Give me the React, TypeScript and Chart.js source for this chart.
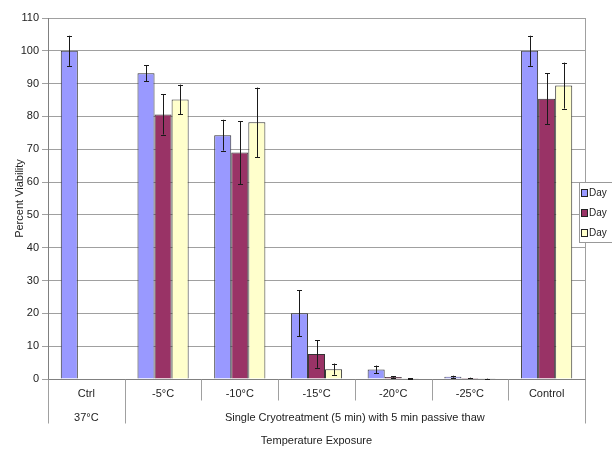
import React, { useEffect, useRef } from "react";
import { Chart, registerables } from "chart.js";

Chart.register(...registerables);

const categories = ["Ctrl", "-5°C", "-10°C", "-15°C", "-20°C", "-25°C", "Control"];
const groupLabels = ["37°C", "Single Cryotreatment (5 min) with 5 min passive thaw"];
const groupStarts = [0, 1];
const groupEnds = [0, 6];
const seriesLabels = ["Day", "Day", "Day"];
const seriesColors = ["#9999FF", "#993366", "#FFFFCC"];

const day1 = [100, 93.2, 74.3, 20.0, 2.9, 0.7, 100];
const day1Err = [4.6, 2.4, 4.7, 7.0, 1.2, 0.3, 4.6];
const day2 = [null, 80.6, 69.0, 7.6, 0.6, 0.3, 85.4];
const day2Err = [null, 6.1, 9.6, 4.2, 0.2, 0.1, 7.8];
const day3 = [null, 85.2, 78.2, 3.0, 0.2, 0.1, 89.4];
const day3Err = [null, 4.5, 10.6, 1.7, 0.1, 0.05, 7.0];

const yMin = 0;
const yMax = 110;
const yStep = 10;
const xTitle = "Temperature Exposure";
const yTitle = "Percent Viability";

const FONT = "'Liberation Sans', Arial, sans-serif";
const TEXT = "#222222";
const GRID = "#a0a0a0";

export default function App() {
  const ref = useRef<HTMLCanvasElement | null>(null);

  useEffect(() => {
    document.body.style.margin = "0";
    const canvas = ref.current;
    if (!canvas) return;
    const values = [day1, day2, day3];
    const errs = [day1Err, day2Err, day3Err];

    const extras = {
      id: "extras",
      beforeDatasetsDraw(chart: any) {
        const { ctx, chartArea } = chart;
        ctx.save();
        ctx.strokeStyle = GRID;
        ctx.lineWidth = 1;
        ctx.beginPath();
        ctx.moveTo(Math.round(chartArea.right) + 0.5, chartArea.top);
        ctx.lineTo(Math.round(chartArea.right) + 0.5, chartArea.bottom);
        ctx.stroke();
        ctx.restore();
      },
      afterDatasetsDraw(chart: any) {
        const { ctx } = chart;
        const ys = chart.scales.y;
        ctx.save();
        ctx.strokeStyle = "#1a1a1a";
        ctx.lineWidth = 1;
        values.forEach((vals, i) => {
          const meta = chart.getDatasetMeta(i);
          vals.forEach((v, j) => {
            const e = errs[i][j];
            if (v == null || e == null) return;
            const x = Math.round(meta.data[j].x) + 0.5;
            const yt = ys.getPixelForValue(v + e);
            const yb = ys.getPixelForValue(Math.max(0, v - e));
            ctx.beginPath();
            ctx.moveTo(x, yt);
            ctx.lineTo(x, yb);
            ctx.moveTo(x - 2.5, Math.round(yt) + 0.5);
            ctx.lineTo(x + 2.5, Math.round(yt) + 0.5);
            ctx.moveTo(x - 2.5, Math.round(yb) + 0.5);
            ctx.lineTo(x + 2.5, Math.round(yb) + 0.5);
            ctx.stroke();
          });
        });
        ctx.restore();
      },
      afterDraw(chart: any) {
        const { ctx, chartArea } = chart;
        const xs = chart.scales.x;
        const base = Math.round(chartArea.bottom) + 0.5;
        ctx.save();
        ctx.strokeStyle = GRID;
        ctx.lineWidth = 1;
        const bound = (k: number) => {
          if (k <= 0) return chartArea.left;
          if (k >= categories.length) return chartArea.right;
          return (xs.getPixelForValue(k - 1) + xs.getPixelForValue(k)) / 2;
        };
        const groupBounds = new Set<number>();
        groupStarts.forEach((s) => groupBounds.add(s));
        groupEnds.forEach((e) => groupBounds.add(e + 1));
        for (let k = 0; k <= categories.length; k++) {
          const x = Math.round(bound(k)) + 0.5;
          const len = groupBounds.has(k) ? 44 : 21;
          ctx.beginPath();
          ctx.moveTo(x, base);
          ctx.lineTo(x, base + len);
          ctx.stroke();
        }
        ctx.fillStyle = TEXT;
        ctx.font = `11px ${FONT}`;
        ctx.textAlign = "center";
        ctx.textBaseline = "middle";
        groupLabels.forEach((g, i) => {
          const cx = (bound(groupStarts[i]) + bound(groupEnds[i] + 1)) / 2;
          ctx.fillText(g, cx, base + 38);
        });

        // legend
        const lx = 579.5;
        const ly = 182.5;
        ctx.fillStyle = "#ffffff";
        ctx.fillRect(lx, ly, 40, 60);
        ctx.strokeStyle = "#999999";
        ctx.strokeRect(lx, ly, 40, 60);
        ctx.font = `10px ${FONT}`;
        ctx.textAlign = "left";
        seriesLabels.forEach((lab, i) => {
          const cy = 193 + i * 20;
          ctx.fillStyle = seriesColors[i];
          ctx.fillRect(582, cy - 3, 5, 6);
          ctx.strokeStyle = "#222";
          ctx.strokeRect(581.5, cy - 3.5, 6, 7);
          ctx.fillStyle = TEXT;
          ctx.fillText(lab, 589, cy + 0.5);
        });
        ctx.restore();
      },
    };

    const chart = new Chart(canvas, {
      type: "bar",
      data: {
        labels: categories,
        datasets: values.map((vals, i) => ({
          label: seriesLabels[i],
          data: vals,
          backgroundColor: seriesColors[i],
          borderColor: "#333333",
          borderWidth: 1,
          categoryPercentage: 0.667,
          barPercentage: 1.0,
        })),
      },
      options: {
        animation: false,
        responsive: false,
        maintainAspectRatio: false,
        layout: { padding: { top: 18, right: 27, left: 0, bottom: 0 } },
        plugins: {
          legend: { display: false },
          tooltip: { enabled: false },
        },
        scales: {
          x: {
            type: "category",
            offset: true,
            grid: { display: true, drawOnChartArea: false, drawTicks: false, color: GRID },
            border: { display: true, color: "#808080" },
            ticks: { font: { family: FONT, size: 11 }, color: TEXT, padding: 8, maxRotation: 0, autoSkip: false },
            title: {
              display: true,
              text: xTitle,
              font: { family: FONT, size: 11 },
              color: TEXT,
              padding: { top: 0, bottom: 2 },
            },
            afterFit: (s: any) => {
              s.height = 71;
            },
          },
          y: {
            min: yMin,
            max: yMax,
            ticks: { stepSize: yStep, font: { family: FONT, size: 11 }, color: TEXT, padding: 3 },
            grid: { color: GRID, tickLength: 6, drawTicks: true },
            border: { display: true, color: "#808080" },
            title: {
              display: true,
              text: yTitle,
              font: { family: FONT, size: 11 },
              color: TEXT,
              padding: { top: 13, bottom: 0 },
            },
            afterFit: (s: any) => {
              s.width = 48;
            },
          },
        },
      },
      plugins: [extras],
    } as any);

    return () => chart.destroy();
  }, []);

  return (
    <div style={{ position: "relative", width: 612, height: 450, background: "#ffffff" }}>
      <canvas ref={ref} width={612} height={450} style={{ display: "block" }} />
    </div>
  );
}
